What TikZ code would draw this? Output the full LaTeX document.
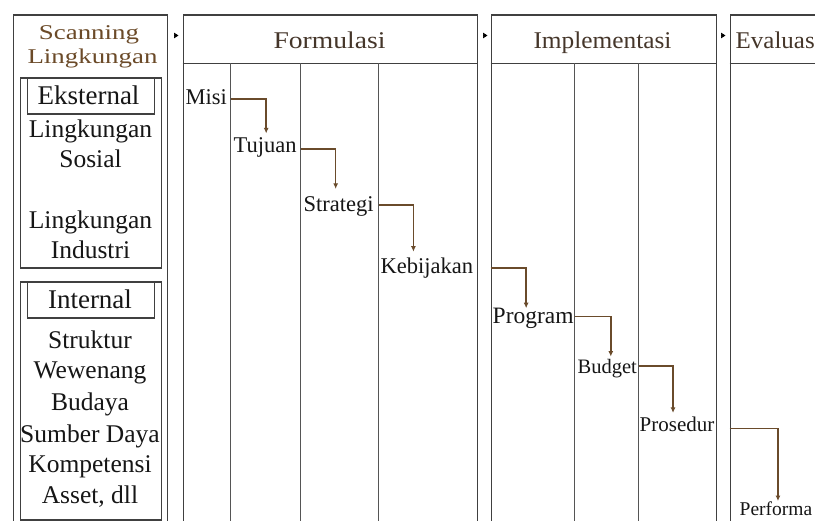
\documentclass[tikz,border=0pt]{standalone}
\usepackage{fontspec}
\setmainfont{Liberation Serif}
\usepackage{graphicx}
\usetikzlibrary{calc,arrows.meta}
\definecolor{linecol}{HTML}{404040}
\definecolor{divcol}{HTML}{555555}
\definecolor{textcol}{HTML}{161616}
\definecolor{scanbrown}{HTML}{6B4A28}
\definecolor{hdrcol}{HTML}{45362A}
\definecolor{flowcol}{HTML}{6A4B2B}
\newcommand{\myfs}[1]{\fontsize{#1}{#1}\selectfont}
\begin{document}
\begin{tikzpicture}[x=1pt,y=-1pt,
  box/.style={draw=linecol, line width=1.3pt, anchor=north west, inner sep=0pt},
  boxline/.style={draw=linecol, line width=1.3pt},
  divline/.style={draw=divcol, line width=1pt},
  lab/.style={anchor=base, inner sep=0pt, text=textcol},
  labw/.style={anchor=base west, inner sep=0pt, text=textcol},
  flow/.style={draw=flowcol, line width=1.4pt, -{Latex[length=5.5pt,width=5pt]}},
  gaptip/.style={draw=black, line width=0.6pt, -{Triangle[length=4.5pt,width=5.5pt]}}]
\useasboundingbox (0,0) rectangle (815,521);
\clip (0,0) rectangle (815,521);
\fill[white] (0,0) rectangle (815,521);
\begin{scope}[shift={(0.5,0.5)}]
% main boxes
\node[box, minimum width=154pt, minimum height=520pt] (scan) at (12,14) {};
\node[box, minimum width=294pt, minimum height=520pt] (fbox) at (182,14) {};
\node[box, minimum width=225pt, minimum height=520pt] (ibox) at (490,14) {};
\node[box, minimum width=120pt, minimum height=520pt] (ebox) at (729,14) {};

% header separators
\draw[boxline] ([yshift=-49pt]fbox.north west) -- ([yshift=-49pt]fbox.north east);
\draw[boxline] ([yshift=-49pt]ibox.north west) -- ([yshift=-49pt]ibox.north east);
\draw[boxline] ([yshift=-49pt]ebox.north west) -- ([yshift=-49pt]ebox.north east);

% column dividers
\coordinate (f1) at (230,63);
\coordinate (f2) at (300,63);
\coordinate (f3) at (378,63);
\coordinate (i0) at (490,63);
\coordinate (i1) at (574,63);
\coordinate (i2) at (638,63);
\coordinate (e0) at (729,63);
\foreach \c in {f1,f2,f3,i1,i2} \draw[divline] (\c) -- (\c |- scan.south);

% left groups
\node[box, minimum width=141pt, minimum height=190pt] (extg) at (19,77) {};
\node[box, minimum width=127pt, minimum height=36pt] (extl) at (26,77) {};
\node[box, minimum width=141pt, minimum height=238pt] (intg) at (19,281) {};
\node[box, minimum width=127pt, minimum height=36pt] (intl) at (26,281) {};

% small arrow tips between phases
\draw[gaptip] ($(fbox.north west)+(-8.5,21)$) -- ($(fbox.north west)+(-4,21)$);
\draw[gaptip] ($(ibox.north west)+(-7.5,21)$) -- ($(ibox.north west)+(-3,21)$);
\draw[gaptip] ($(ebox.north west)+(-8.5,21)$) -- ($(ebox.north west)+(-4,21)$);

% headers
\node[lab, text=scanbrown] (scn1) at (88.5,39.3) {\myfs{21}\scalebox{1.28}[1]{Scanning}};
\node[lab, text=scanbrown] (scn2) at (92,63.3) {\myfs{21}\scalebox{1.28}[1]{Lingkungan}};
\node[lab, text=hdrcol] (hform) at (329,48.5) {\myfs{24}\scalebox{1.15}[1]{Formulasi}};
\node[lab, text=hdrcol] (himpl) at (602,48) {\myfs{24}\scalebox{1.056}[1]{Implementasi}};
\node[labw, text=hdrcol] (heval) at (735,48) {\myfs{24}\scalebox{1.04}[1]{Evaluas}};

% left column texts
\node[lab] (ext) at (88,104) {\myfs{27}Eksternal};
\node[lab] (ls1) at (90,137) {\myfs{25.5}Lingkungan};
\node[lab] (ls2) at (90,167) {\myfs{25.5}Sosial};
\node[lab] (li1) at (90,228) {\myfs{25.5}Lingkungan};
\node[lab] (li2) at (90,258) {\myfs{25.5}Industri};
\node[lab] (int) at (89.5,308) {\myfs{27}Internal};
\node[lab] (in1) at (89.5,348) {\myfs{25.5}Struktur};
\node[lab] (in2) at (89.5,378) {\myfs{25.5}Wewenang};
\node[lab] (in3) at (89.5,410) {\myfs{25.5}Budaya};
\node[lab] (in4) at (89.5,442) {\myfs{25.5}Sumber Daya};
\node[lab] (in5) at (89.5,472) {\myfs{25.5}Kompetensi};
\node[lab] (in6) at (89.5,503) {\myfs{25.5}Asset, dll};

% step texts
\node[labw] (misi) at (185,104) {\myfs{22.5}Misi};
\node[labw] (tujuan) at (233,152) {\myfs{22.5}Tujuan};
\node[labw] (strategi) at (303,211.5) {\myfs{22.5}Strategi};
\node[labw] (kebijakan) at (380,273) {\myfs{22.5}Kebijakan};
\node[labw] (program) at (492,323.3) {\myfs{23.5}Program};
\node[labw] (budget) at (577,373) {\myfs{20.5}Budget};
\node[labw] (prosedur) at (639,430.7) {\myfs{21}Prosedur};
\node[labw] (performa) at (739,515.5) {\myfs{19.5}Performa};

% flows
\draw[flow] ($(misi.east -| f1)+(0,2)$) -| ($(tujuan.north)+(1,-4)$);
\draw[flow] ($(tujuan.east -| f2)+(0,1.5)$) -| ($(strategi.north)+(-3,-8)$);
\draw[flow] ($(strategi.east -| f3)+(0,-2)$) -| ($(kebijakan.north)+(-13.5,-6)$);
\draw[flow] (kebijakan.east -| i0) -| ($(program.north)+(-7,0)$);
\draw[flow] ($(program.east -| i1)+(0,-2)$) -| ($(budget.north)+(3.5,-2.5)$);
\draw[flow] ($(budget.east -| i2)+(0,-2.5)$) -| ($(prosedur.north)+(-4,-3.5)$);
\draw[flow] ($(prosedur.east -| e0)+(0,4.5)$) -| ($(performa.north)+(2,-1)$);
\end{scope}
\end{tikzpicture}
\end{document}
